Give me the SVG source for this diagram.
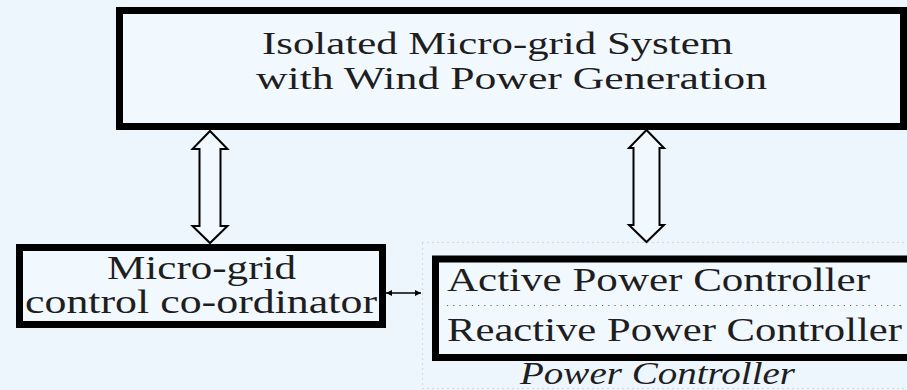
<svg xmlns="http://www.w3.org/2000/svg" width="907" height="390" viewBox="0 0 907 390">
<defs>
<style>
.box{fill:#F1F8FE;stroke:#000;stroke-width:7}
.t{font-family:"Liberation Serif","Times New Roman",serif;fill:#1e1e1e}
.big{fill:#F1F8FE;stroke:#000;stroke-width:2;stroke-linejoin:miter}
.dot{fill:none;stroke:#b8bcc0;stroke-width:1;stroke-dasharray:1 4}
.sep{fill:none;stroke:#666;stroke-width:1.2;stroke-dasharray:1.2 5}
</style>
<marker id="ah" viewBox="0 0 10 10" refX="10" refY="5" markerWidth="9" markerHeight="6" orient="auto-start-reverse" markerUnits="userSpaceOnUse">
<path d="M0,0 L10,5 L0,10 Z" fill="#000"/>
</marker>
</defs>
<rect width="907" height="390" fill="#EEF6FD"/>

<g id="system">
<rect class="box" x="119.5" y="10.5" width="784" height="116"/>
<text class="t" x="262" y="54" font-size="32" textLength="471" lengthAdjust="spacingAndGlyphs">Isolated Micro-grid System</text>
<text class="t" x="256" y="89" font-size="32" textLength="511" lengthAdjust="spacingAndGlyphs">with Wind Power Generation</text>
</g>

<g id="coordinator">
<rect class="box" x="19.5" y="247.5" width="363" height="77"/>
<text class="t" x="107" y="279" font-size="33" textLength="189" lengthAdjust="spacingAndGlyphs">Micro-grid</text>
<text class="t" x="25" y="313" font-size="33" textLength="352" lengthAdjust="spacingAndGlyphs">control co-ordinator</text>
</g>

<g id="power-controller">
<rect class="dot" x="422.5" y="242.5" width="500" height="146"/>
<rect class="box" x="435.5" y="259" width="480" height="98.5"/>
<line class="sep" x1="447" y1="305.5" x2="905" y2="305.5"/>
<text class="t" x="447" y="291" font-size="33" textLength="423" lengthAdjust="spacingAndGlyphs">Active Power Controller</text>
<text class="t" x="447" y="341" font-size="33" textLength="455" lengthAdjust="spacingAndGlyphs">Reactive Power Controller</text>
<text class="t" x="520" y="384" font-size="31" font-style="italic" textLength="275" lengthAdjust="spacingAndGlyphs">Power Controller</text>
</g>

<g id="connectors">
<path class="big" d="M210,131 L227.5,149 L220.5,149 L220.5,226 L227.5,226 L210,243 L192.5,226 L199.5,226 L199.5,149 L192.5,149 Z"/>
<path class="big" d="M646.5,130 L664,148 L659.5,148 L659.5,225 L664,225 L646.5,242 L629,225 L633.5,225 L633.5,148 L629,148 Z"/>
<line x1="386" y1="293" x2="421" y2="293" stroke="#000" stroke-width="1.5" marker-start="url(#ah)" marker-end="url(#ah)"/>
</g>
</svg>
